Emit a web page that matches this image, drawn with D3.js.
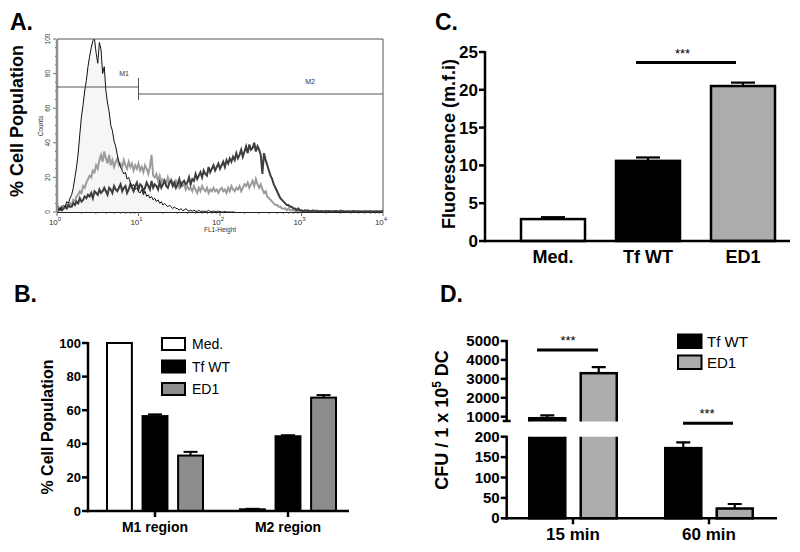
<!DOCTYPE html>
<html><head><meta charset="utf-8">
<script src="https://cdn.jsdelivr.net/npm/d3@7"></script>
<style>
body{margin:0;background:#fff}
svg{display:block}
text{font-family:"Liberation Sans",Arial,Helvetica,sans-serif}
</style>
</head><body>
<svg id="c" width="800" height="552"></svg>
<script>
// ---------------- DATA ----------------
// Panel A: flow cytometry histograms (counts per log-spaced bin, log10 start 0, step 0.02)
const histLogStart = 0;
const histLogStep = 0.02;
const histMed = [1,2,1,3,4,3,6,5,8,10,
  14,20,26,34,45,55,62,70,76,84,
  90,95,99,100,92,86,98,94,80,84,
  70,63,58,50,47,41,38,33,29,26,
  24,22,23,19,20,17,15,16,13,14,
  12,11,13,10,12,9,10,8,9,7,
  8,6,7,5,6,4,5,4,3,4,
  3,2,3,2,2,1,2,1,1,2,
  1,0.5,1,0.5,1,0.5,0.3,1,0.3,0.5,
  0.3,0.5,0.3,1,0.3,0.3,0.5,0.3,0.3,0.5,
  0.3,0,0,0.3,0,0,0,0,0,0];
const histLight = [4,3,2,3,2,3,4,3,5,4,
  7,6,9,10,12,11,15,14,17,19,
  21,20,24,23,27,25,30,33,29,35,
  31,28,33,27,30,26,29,31,27,28,
  26,30,27,25,29,26,28,24,27,25,
  28,24,26,23,27,25,22,26,33,21,
  20,22,18,21,17,19,18,16,20,17,
  19,17,15,18,16,14,17,15,16,13,
  15,13,14,12,15,13,11,14,12,15,
  13,12,14,11,13,12,14,12,13,11,
  13,14,12,13,11,14,12,15,13,12,
  14,13,15,12,14,16,15,17,14,16,
  18,15,19,16,14,16,13,11,12,9,
  8,7,6,5,4,4,3,3,2,2,
  2,1,2,1,1,1,0.5,1,0.5,0.5,
  0.5,0.3,0.5,1,0.3,0.5,0.3,0.5,0.3,1,
  0.3,0.5,0.3,0.3,0.5,0.3,0.5,0.3,0.3,0.5,
  0.3,0.3,0.5,0.3,1,0.3,0.5,0.3,0.3,0.5,
  0.3,0.3,0.5,0.3,0.3,0.5,0.3,0.3,0.3,0.5,
  0.3,0.3,0.5,0.3,0.3,0.3,0.5,0.3,0.3,0.5,
  1];
const histDark = [3,1,2,1,2,3,2,4,3,3,
  5,4,6,5,8,6,7,9,8,10,
  9,11,8,12,11,10,13,11,12,14,
  12,10,14,13,11,15,13,12,14,16,
  12,14,15,11,13,16,14,12,15,17,
  13,16,15,12,14,17,15,13,18,14,
  16,15,13,17,14,16,18,15,14,17,
  18,15,17,14,16,19,15,17,18,16,
  17,20,16,19,18,22,19,21,23,20,
  24,22,21,26,23,25,27,24,26,28,
  25,27,29,26,30,28,31,29,32,30,
  34,31,33,36,32,35,38,34,39,36,
  37,40,35,38,36,33,22,34,30,27,
  24,21,19,16,14,12,10,8,7,6,
  5,4,4,3,3,2,2,1,2,1,
  1,0.5,1,0.5,1,0.5,0.5,1,0.5,0.3,
  0.5,0.3,0.5,0.3,0.3,0.5,0.3,0.5,0.3,0.3,
  0.3,0.5,0.3,0.3,0.3,0.5,0.3,0.3,0.3,0.3,
  0.3,0.3,0.5,0.3,0.3,0.3,0.3,0.3,0.3,0.3,
  0.3,0.3,0.3,0.3,0.3,0.3,0.3,0.3,0.3,0.3,
  0.3];
const histYTicks = [0,20,40,60,80,100];
const histDecades = [0,1,2,3,4];
const gateM1 = [1, 10];
const gateM2 = [10, 10000];

// Panel B
const bCategories = ["M1 region","M2 region"];
const bSeries = ["Med.","Tf WT","ED1"];
const bMed = [100, 1];
const bMedErr = [0, 0.3];
const bTf = [56.5, 44.5];
const bTfErr = [1, 0.6];
const bEd = [33, 67.5];
const bEdErr = [2.2, 1.5];
const bTicks = [0,20,40,60,80,100];

// Panel C
const cCategories = ["Med.","Tf WT","ED1"];
const cValues = [2.9, 10.6, 20.5];
const cErr = [0.25, 0.45, 0.45];
const cTicks = [0,5,10,15,20,25];

// Panel D
const dCategories = ["15 min","60 min"];
const dSeries = ["Tf WT","ED1"];
const dTf = [920, 172];
const dTfErr = [150, 14];
const dEd = [3300, 24];
const dEdErr = [320, 11];
const dTicksUpper = [1000,2000,3000,4000,5000];
const dTicksLower = [0,50,100,150,200];

// ---------------- DRAW ----------------
const svg = d3.select("#c");

function label(g, txt, x, y, opts={}) {
  return g.append("text").attr("x", x).attr("y", y).text(txt)
    .attr("font-size", opts.size || 12)
    .attr("font-weight", opts.bold ? "bold" : "normal")
    .attr("text-anchor", opts.anchor || "start")
    .attr("fill", opts.fill || "#000");
}
function vlabel(g, x, y, size, bold) {
  return g.append("text")
    .attr("transform", `translate(${x},${y}) rotate(-90)`)
    .attr("text-anchor", "middle")
    .attr("font-size", size)
    .attr("font-weight", bold ? "bold" : "normal");
}

// ===== Panel A =====
{
  const g = svg.append("g");
  const xA = d3.scaleLog().domain([1, 10000]).range([57, 383]);
  const yA = d3.scaleLinear().domain([0, 100]).range([212, 39]);
  const toPts = arr => arr.map((v, i) => [Math.pow(10, histLogStart + i * histLogStep), v]);
  const line = d3.line().x(d => xA(d[0])).y(d => yA(d[1]));
  const area = d3.area().x(d => xA(d[0])).y0(yA(0)).y1(d => yA(d[1]));

  g.append("path").datum(toPts(histMed)).attr("d", area).attr("fill", "#f6f6f6");
  g.append("path").datum(toPts(histLight)).attr("d", line).attr("fill", "none")
    .attr("stroke", "#9c9c9c").attr("stroke-width", 2);
  g.append("path").datum(toPts(histDark)).attr("d", line).attr("fill", "none")
    .attr("stroke", "#3e3e3e").attr("stroke-width", 2);
  g.append("path").datum(toPts(histMed)).attr("d", line).attr("fill", "none")
    .attr("stroke", "#111").attr("stroke-width", 1);

  // frame
  g.append("line").attr("x1", xA(1)).attr("x2", xA(10000)).attr("y1", yA(100)).attr("y2", yA(100)).attr("stroke", "#555");
  g.append("line").attr("x1", xA(10000)).attr("x2", xA(10000)).attr("y1", yA(100)).attr("y2", yA(0)).attr("stroke", "#555");
  g.append("line").attr("x1", xA(1)).attr("x2", xA(10000)).attr("y1", yA(0)+0.5).attr("y2", yA(0)+0.5).attr("stroke", "#222");
  g.append("line").attr("x1", xA(1)).attr("x2", xA(1)).attr("y1", yA(100)).attr("y2", yA(0)).attr("stroke", "#8f8f8f").attr("stroke-width", 2.5);

  // y ticks
  for (let v = 0; v <= 100; v += 5) {
    const major = histYTicks.includes(v);
    g.append("line").attr("x1", xA(1) - (major ? 4 : 2)).attr("x2", xA(1) - 1)
      .attr("y1", yA(v)).attr("y2", yA(v)).attr("stroke", "#555").attr("stroke-width", 0.8);
  }
  histYTicks.forEach(v => {
    vlabel(g, 49.5, yA(v), 6.5, false).attr("fill", "#333").text(v);
  });
  vlabel(g, 43, 126, 6.5, false).attr("fill", "#333").text("Counts");

  // x ticks
  histDecades.forEach((d, i) => {
    const v = Math.pow(10, d);
    g.append("line").attr("x1", xA(v)).attr("x2", xA(v)).attr("y1", yA(0)).attr("y2", yA(0) + 4)
      .attr("stroke", "#444").attr("stroke-width", 0.8);
    if (i < histDecades.length - 1) {
      for (let m = 2; m <= 9; m++) {
        g.append("line").attr("x1", xA(m * v)).attr("x2", xA(m * v)).attr("y1", yA(0)).attr("y2", yA(0) + 2)
          .attr("stroke", "#444").attr("stroke-width", 0.7);
      }
    }
    const t = g.append("text").attr("x", xA(v) - 2).attr("y", 225).attr("text-anchor", "middle")
      .attr("font-size", 8).attr("fill", "#333");
    t.append("tspan").text("10");
    t.append("tspan").attr("dy", -4).attr("font-size", 6).text(d);
  });
  label(g, "FL1-Height", 220, 232, {size: 6.5, anchor: "middle", fill: "#333"});

  // gates
  g.append("line").attr("x1", xA(gateM1[0])).attr("x2", xA(gateM1[1])).attr("y1", 87).attr("y2", 87).attr("stroke", "#555");
  g.append("line").attr("x1", xA(gateM1[1])).attr("x2", xA(gateM1[1])).attr("y1", 78).attr("y2", 100).attr("stroke", "#555");
  g.append("line").attr("x1", xA(gateM2[0])).attr("x2", xA(gateM2[1])).attr("y1", 94).attr("y2", 94).attr("stroke", "#555");
  label(g, "M1", 124, 76, {size: 7, anchor: "middle", fill: "#333"});
  label(g, "M2", 310, 84, {size: 7, anchor: "middle", fill: "#333"});

  vlabel(g, 23, 121, 18, true).text("% Cell Population");
  label(g, "A.", 10, 30, {size: 23, bold: true});
}

// ===== Panel B =====
{
  const g = svg.append("g");
  const x0 = d3.scalePoint().domain(bCategories).range([155, 288]);
  const x1 = d3.scaleBand().domain(bSeries).range([-48, 48]).paddingInner(0.3);
  const y = d3.scaleLinear().domain([0, 100]).range([511, 343]);
  const fills = {"Med.": "#ffffff", "Tf WT": "#000000", "ED1": "#8c8c8c"};
  const vals = {"Med.": bMed, "Tf WT": bTf, "ED1": bEd};
  const errs = {"Med.": bMedErr, "Tf WT": bTfErr, "ED1": bEdErr};

  bCategories.forEach((c, ci) => {
    bSeries.forEach(s => {
      const v = vals[s][ci], e = errs[s][ci];
      const bx = x0(c) + x1(s), bw = x1.bandwidth();
      if (e > 0) {
        const cx = bx + bw / 2;
        g.append("line").attr("x1", cx).attr("x2", cx).attr("y1", y(v)).attr("y2", y(v + e)).attr("stroke", "#000").attr("stroke-width", 2);
        g.append("line").attr("x1", cx - 7).attr("x2", cx + 7).attr("y1", y(v + e)).attr("y2", y(v + e)).attr("stroke", "#000").attr("stroke-width", 2);
      }
      g.append("rect").attr("x", bx).attr("y", y(v)).attr("width", bw).attr("height", y(0) - y(v))
        .attr("fill", fills[s]).attr("stroke", "#000").attr("stroke-width", 2);
    });
  });

  g.append("line").attr("x1", 88).attr("x2", 88).attr("y1", y(100) - 1).attr("y2", y(0) + 1.2).attr("stroke", "#000").attr("stroke-width", 2.5);
  g.append("line").attr("x1", 87).attr("x2", 349).attr("y1", y(0)).attr("y2", y(0)).attr("stroke", "#000").attr("stroke-width", 2.5);
  bTicks.forEach(v => {
    g.append("line").attr("x1", 82).attr("x2", 88).attr("y1", y(v)).attr("y2", y(v)).attr("stroke", "#000").attr("stroke-width", 2.5);
    label(g, v, 81, y(v) + 4.5, {size: 13, bold: true, anchor: "end"});
  });
  bCategories.forEach(c => {
    g.append("line").attr("x1", x0(c)).attr("x2", x0(c)).attr("y1", y(0)).attr("y2", y(0) + 6).attr("stroke", "#000").attr("stroke-width", 2.5);
    label(g, c, x0(c), 532, {size: 14, bold: true, anchor: "middle"});
  });

  bSeries.forEach((s, i) => {
    const ly = 338 + i * 22.5;
    g.append("rect").attr("x", 162).attr("y", ly).attr("width", 23).attr("height", 12)
      .attr("fill", fills[s]).attr("stroke", "#000").attr("stroke-width", 2);
    label(g, s, 192, ly + 11, {size: 14});
  });

  vlabel(g, 53, 427, 16, true).text("% Cell Population");
  label(g, "B.", 14, 302, {size: 23, bold: true});
}

// ===== Panel C =====
{
  const g = svg.append("g");
  const x = d3.scalePoint().domain(cCategories).range([553, 743]);
  const y = d3.scaleLinear().domain([0, 25]).range([241, 52]);
  const bw = 64;
  const fills = ["#ffffff", "#000000", "#acacac"];
  cCategories.forEach((c, i) => {
    const v = cValues[i], e = cErr[i], cx = x(c);
    g.append("line").attr("x1", cx).attr("x2", cx).attr("y1", y(v)).attr("y2", y(v + e)).attr("stroke", "#000").attr("stroke-width", 2.2);
    g.append("line").attr("x1", cx - 12).attr("x2", cx + 12).attr("y1", y(v + e)).attr("y2", y(v + e)).attr("stroke", "#000").attr("stroke-width", 2.2);
    g.append("rect").attr("x", cx - bw / 2).attr("y", y(v)).attr("width", bw).attr("height", y(0) - y(v))
      .attr("fill", fills[i]).attr("stroke", "#000").attr("stroke-width", 2.5);
    label(g, c, cx, 263, {size: 18, bold: true, anchor: "middle"});
  });
  g.append("line").attr("x1", 485).attr("x2", 485).attr("y1", y(25) - 1).attr("y2", y(0) + 1.2).attr("stroke", "#000").attr("stroke-width", 2.5);
  g.append("line").attr("x1", 484).attr("x2", 790).attr("y1", y(0)).attr("y2", y(0)).attr("stroke", "#000").attr("stroke-width", 2.5);
  cTicks.forEach(v => {
    g.append("line").attr("x1", 479).attr("x2", 485).attr("y1", y(v)).attr("y2", y(v)).attr("stroke", "#000").attr("stroke-width", 2.5);
    label(g, v, 478, y(v) + 6, {size: 17, bold: true, anchor: "end"});
  });
  g.append("line").attr("x1", x("Tf WT") - 12).attr("x2", x("ED1") - 7).attr("y1", y(23.6)).attr("y2", y(23.6)).attr("stroke", "#000").attr("stroke-width", 3);
  label(g, "***", (x("Tf WT") + x("ED1")) / 2 - 13, 58, {size: 13, anchor: "middle"});

  vlabel(g, 455, 144, 18, true).text("Fluorescence (m.f.i)");
  label(g, "C.", 435, 30, {size: 23, bold: true});
}

// ===== Panel D =====
{
  const g = svg.append("g");
  const x0 = d3.scalePoint().domain(dCategories).range([573, 709]);
  const x1 = d3.scaleBand().domain(dSeries).range([-43.75, 43.75]).paddingInner(0.3);
  const yU = d3.scaleLinear().domain([800, 5000]).range([420.5, 341]);
  const yL = d3.scaleLinear().domain([0, 200]).range([518.3, 436.7]);
  const upClipBottom = 421.5, lowClipTop = 436.7;
  const defs = svg.append("defs");
  defs.append("clipPath").attr("id", "clipU").append("rect").attr("x", 500).attr("y", 300).attr("width", 300).attr("height", upClipBottom - 300);
  defs.append("clipPath").attr("id", "clipL").append("rect").attr("x", 500).attr("y", lowClipTop).attr("width", 300).attr("height", 100);
  const gU = g.append("g").attr("clip-path", "url(#clipU)");
  const gL = g.append("g").attr("clip-path", "url(#clipL)");
  const fills = {"Tf WT": "#000000", "ED1": "#acacac"};
  const vals = {"Tf WT": dTf, "ED1": dEd};
  const errs = {"Tf WT": dTfErr, "ED1": dEdErr};

  dCategories.forEach((c, ci) => {
    dSeries.forEach(s => {
      const v = vals[s][ci], e = errs[s][ci];
      const bx = x0(c) + x1(s), bw = x1.bandwidth(), cx = bx + bw / 2;
      const tU = yU(v), tUe = yU(v + e);
      gU.append("line").attr("x1", cx).attr("x2", cx).attr("y1", tU).attr("y2", tUe).attr("stroke", "#000").attr("stroke-width", 2.2);
      gU.append("line").attr("x1", cx - 7).attr("x2", cx + 7).attr("y1", tUe).attr("y2", tUe).attr("stroke", "#000").attr("stroke-width", 2.2);
      gU.append("rect").attr("x", bx).attr("y", tU).attr("width", bw).attr("height", Math.max(0, upClipBottom + 6 - tU))
        .attr("fill", fills[s]).attr("stroke", "#000").attr("stroke-width", 2.5);
      const tL = Math.max(yL(v), lowClipTop - 6), tLe = yL(v + e);
      if (tLe > lowClipTop - 6) {
        gL.append("line").attr("x1", cx).attr("x2", cx).attr("y1", yL(v)).attr("y2", tLe).attr("stroke", "#000").attr("stroke-width", 2.2);
        gL.append("line").attr("x1", cx - 7).attr("x2", cx + 7).attr("y1", tLe).attr("y2", tLe).attr("stroke", "#000").attr("stroke-width", 2.2);
      }
      gL.append("rect").attr("x", bx).attr("y", tL).attr("width", bw).attr("height", yL(0) - tL)
        .attr("fill", fills[s]).attr("stroke", "#000").attr("stroke-width", 2.5);
    });
  });

  const ax = 506.7;
  g.append("line").attr("x1", ax).attr("x2", ax).attr("y1", yU(5000) - 1).attr("y2", 421).attr("stroke", "#000").attr("stroke-width", 2.5);
  g.append("line").attr("x1", ax).attr("x2", ax).attr("y1", yL(200) - 1).attr("y2", yL(0) + 1.2).attr("stroke", "#000").attr("stroke-width", 2.5);
  g.append("line").attr("x1", ax - 4).attr("x2", ax + 4).attr("y1", 421).attr("y2", 421).attr("stroke", "#000").attr("stroke-width", 2.5);
  g.append("line").attr("x1", ax - 1).attr("x2", 777).attr("y1", yL(0)).attr("y2", yL(0)).attr("stroke", "#000").attr("stroke-width", 2.5);
  dTicksUpper.forEach(v => {
    g.append("line").attr("x1", ax - 6).attr("x2", ax).attr("y1", yU(v)).attr("y2", yU(v)).attr("stroke", "#000").attr("stroke-width", 2.5);
    label(g, v, ax - 7, yU(v) + 5, {size: 15, bold: true, anchor: "end"});
  });
  dTicksLower.forEach(v => {
    g.append("line").attr("x1", ax - 6).attr("x2", ax).attr("y1", yL(v)).attr("y2", yL(v)).attr("stroke", "#000").attr("stroke-width", 2.5);
    label(g, v, ax - 7, yL(v) + 5, {size: 15, bold: true, anchor: "end"});
  });
  dCategories.forEach(c => {
    g.append("line").attr("x1", x0(c)).attr("x2", x0(c)).attr("y1", yL(0)).attr("y2", yL(0) + 6).attr("stroke", "#000").attr("stroke-width", 2.5);
    label(g, c, x0(c), 540, {size: 17, bold: true, anchor: "middle"});
  });

  g.append("line").attr("x1", x0("15 min") - 36).attr("x2", x0("15 min") + 25).attr("y1", 350).attr("y2", 350).attr("stroke", "#000").attr("stroke-width", 3);
  label(g, "***", x0("15 min") - 5, 345, {size: 13, anchor: "middle"});
  g.append("line").attr("x1", x0("60 min") - 26).attr("x2", x0("60 min") + 24).attr("y1", 423.3).attr("y2", 423.3).attr("stroke", "#000").attr("stroke-width", 3);
  label(g, "***", x0("60 min") - 2, 418, {size: 13, anchor: "middle"});

  dSeries.forEach((s, i) => {
    const ly = 334.5 + i * 21;
    g.append("rect").attr("x", 678).attr("y", ly).attr("width", 23.5).attr("height", 13.5)
      .attr("fill", fills[s]).attr("stroke", "#000").attr("stroke-width", 2);
    label(g, s, 707, ly + 12.5, {size: 15});
  });

  const t = vlabel(g, 448, 420, 18, true);
  t.append("tspan").text("CFU / 1 x 10");
  t.append("tspan").attr("dy", -7).attr("font-size", 12).text("5");
  t.append("tspan").attr("dy", 7).text(" DC");
  label(g, "D.", 440, 302, {size: 23, bold: true});
}
</script>
</body></html>
